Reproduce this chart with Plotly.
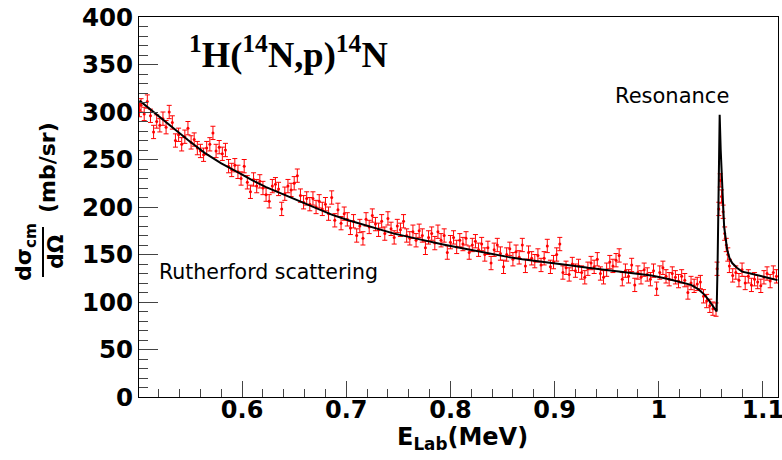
import plotly.graph_objects as go

# ---------------- data ----------------
# measured points: lab energy (MeV)
E_LAB = [
    0.5015, 0.503, 0.506, 0.509, 0.512, 0.515, 0.518, 0.521, 0.524, 0.527, 0.530,
    0.533, 0.536, 0.539, 0.542, 0.545, 0.548, 0.551, 0.554, 0.557, 0.560,
    0.563, 0.566, 0.569, 0.572, 0.575, 0.578, 0.581, 0.584, 0.587, 0.590,
    0.593, 0.596, 0.599, 0.602, 0.605, 0.608, 0.611, 0.614, 0.617, 0.620,
    0.623, 0.626, 0.629, 0.632, 0.635, 0.638, 0.641, 0.644, 0.647, 0.650,
    0.653, 0.656, 0.659, 0.662, 0.665, 0.668, 0.671, 0.674, 0.677, 0.680,
    0.683, 0.686, 0.689, 0.692, 0.695, 0.698, 0.701, 0.704, 0.707, 0.710,
    0.713, 0.716, 0.719, 0.722, 0.725, 0.728, 0.731, 0.734, 0.737, 0.740,
    0.743, 0.746, 0.749,
    0.752, 0.755, 0.758, 0.761, 0.764, 0.767, 0.770, 0.773, 0.776, 0.779,
    0.782, 0.785, 0.788, 0.791, 0.794, 0.797, 0.800, 0.803, 0.806, 0.809,
    0.812, 0.815, 0.818, 0.821, 0.824, 0.827, 0.830, 0.833, 0.836, 0.839,
    0.842, 0.845, 0.848, 0.851, 0.854, 0.857, 0.860, 0.863, 0.866, 0.869,
    0.872, 0.875, 0.878, 0.881, 0.884, 0.887, 0.890, 0.893, 0.896, 0.899,
    0.902, 0.905, 0.908, 0.911, 0.914, 0.917, 0.920, 0.923, 0.926, 0.929,
    0.932, 0.935, 0.938, 0.941, 0.944, 0.947, 0.950, 0.953, 0.956, 0.959,
    0.962, 0.965, 0.968, 0.971, 0.974, 0.977, 0.980, 0.983, 0.986, 0.989,
    0.992,
    0.995, 0.998, 1.001, 1.004, 1.007, 1.010, 1.013, 1.016, 1.019, 1.022,
    1.025, 1.028, 1.031, 1.034, 1.037, 1.040, 1.043, 1.046, 1.049, 1.052,
    1.055,
    1.0560, 1.0577, 1.0590, 1.0603, 1.0618, 1.0633, 1.0648, 1.0663, 1.0678,
    1.071, 1.074, 1.077, 1.080, 1.083, 1.086, 1.089, 1.092, 1.095, 1.098,
    1.101, 1.104, 1.107, 1.110, 1.113,
]
# measured cross section (mb/sr)
XSEC = [
    302, 307, 298, 311, 296, 279, 290, 286, 293, 284, 300,
    289, 270, 276, 266, 274, 283, 268, 271, 262, 259,
    255, 262, 266, 278, 259, 263, 256, 260, 243, 239,
    244, 237, 230, 243, 226, 216, 229, 222, 227, 220,
    213, 206, 222, 224, 219, 198, 214, 222, 218, 225,
    233, 212, 205, 209, 203, 209, 200, 206, 198, 203,
    193, 210, 186, 197, 183, 193, 187, 178, 185, 170,
    180, 167, 187, 179, 191, 182, 176, 185, 172, 188,
    177, 168, 180,
    176, 185, 170, 167, 174, 165, 175, 170, 157, 168,
    172, 162, 174, 165, 170, 152, 163, 168, 158, 165,
    161, 167, 152, 160, 164, 155, 161, 150, 157, 141,
    155, 160, 151, 137, 150, 156, 145, 153, 147, 160,
    138, 152, 146, 143, 149, 139, 146, 159, 137, 142,
    150, 161, 131, 136, 129, 140, 133, 138, 131, 126,
    135, 141, 137, 145, 130, 126, 134, 142, 138, 144,
    149, 124, 133, 127, 139, 118, 131, 126, 134, 129,
    124,
    133, 114, 131, 136, 127, 124, 130, 126, 122, 127,
    123, 110, 120, 117, 119, 121, 106, 101, 96, 93,
    92,
    135, 198, 228, 211, 195, 172, 160, 150, 138,
    128, 131, 123, 134, 120, 127, 118, 124, 121, 117,
    126, 130, 122, 131, 127,
]
XSEC_ERR = 7  # mb/sr, error bar half-length

# fitted curve (Rutherford + resonance)
FIT_E = [
    0.5015, 0.516, 0.532, 0.548, 0.564, 0.580, 0.597, 0.610, 0.623, 0.638,
    0.654, 0.670, 0.686, 0.702, 0.718, 0.732, 0.746, 0.762, 0.777, 0.793,
    0.809, 0.825, 0.841, 0.855, 0.869, 0.885, 0.900, 0.916, 0.932, 0.948,
    0.964, 0.978, 0.993, 1.008, 1.022, 1.031, 1.0386, 1.044, 1.048, 1.051,
    1.053, 1.0545, 1.0556, 1.0565, 1.0575, 1.0585, 1.0595, 1.0605, 1.0616,
    1.0628, 1.0642, 1.0657, 1.0680, 1.0705, 1.075, 1.080, 1.088, 1.096,
    1.105, 1.114,
]
FIT_XS = [
    312, 299, 285, 270.5, 257, 246, 236, 228, 221, 214,
    207, 199.5, 192, 186, 181, 176.5, 172, 168, 164, 160.5,
    157, 153.5, 150, 147.5, 145, 143, 141, 138.5, 136, 134,
    132, 130, 128, 124.5, 121, 118, 113, 107.5, 102, 97.5,
    94, 91.5, 90, 140, 230, 297, 260, 225, 207,
    179, 165, 155, 146, 141, 136, 132, 130, 128,
    125.5, 123,
]

X_TICKS = [0.6, 0.7, 0.8, 0.9, 1.0, 1.1]
X_TICK_TEXT = ["0.6", "0.7", "0.8", "0.9", "1", "1.1"]
Y_TICKS = [0, 50, 100, 150, 200, 250, 300, 350, 400]

# ---------------- figure ----------------
fig = go.Figure()

fig.add_trace(go.Scatter(
    x=E_LAB, y=XSEC, mode="markers",
    marker=dict(color="#ff0000", size=3),
    error_y=dict(type="constant", value=XSEC_ERR, color="#ff0000",
                 thickness=1, width=2.5),
    showlegend=False, hoverinfo="x+y",
))
fig.add_trace(go.Scatter(
    x=FIT_E, y=FIT_XS, mode="lines",
    line=dict(color="black", width=2),
    showlegend=False,
))

TICKFONT = dict(family="DejaVu Sans", size=24, color="black", weight="bold")

fig.update_xaxes(
    range=[0.501, 1.1145], showgrid=False, zeroline=False, automargin=False,
    showline=True, linecolor="black", linewidth=1, mirror=True,
    tickmode="array", tickvals=X_TICKS, ticktext=X_TICK_TEXT,
    ticks="inside", ticklen=16, tickcolor="#444", tickwidth=1,
    ticklabeloverflow="allow", ticklabelstandoff=-9,
    minor=dict(dtick=0.02, tick0=0.5, ticks="inside", ticklen=8,
               tickcolor="#444", tickwidth=1, showgrid=False),
    tickfont=TICKFONT,
)
fig.update_yaxes(
    range=[0, 400], showgrid=False, zeroline=False, automargin=False,
    showline=True, linecolor="black", linewidth=1, mirror=True,
    tickmode="array", tickvals=Y_TICKS,
    ticks="inside", ticklen=19, tickcolor="#444", tickwidth=1,
    ticklabeloverflow="allow",
    minor=dict(dtick=10, tick0=0, ticks="inside", ticklen=9,
               tickcolor="#444", tickwidth=1, showgrid=False),
    tickfont=dict(TICKFONT, size=24.5),
)

# plot-area edges in page pixels (page body margin removed below)
PL, PR, PT, PB = 139, 778, 17, 397
W, H = 782, 460
PW, PH = PR - PL, PB - PT


def px(xp):
    return (xp - PL) / PW


def py(yp):
    return (PB - yp) / PH


ann = []
ann.append(dict(text="<b><sup>1</sup>H(<sup>14</sup>N,p)<sup>14</sup>N</b>",
                x=px(288), y=py(52), xanchor="center", yanchor="middle",
                font=dict(family="Liberation Serif", size=36.5, color="black")))
ann.append(dict(text="Rutherford scattering", x=px(157), y=py(272),
                xanchor="left", yanchor="middle",
                font=dict(family="DejaVu Sans", size=20.5, color="black")))
ann.append(dict(text="Resonance", x=px(672), y=py(96),
                xanchor="center", yanchor="middle",
                font=dict(family="DejaVu Sans", size=21, color="black")))
ann.append(dict(text="<b>E<sub>Lab</sub>(MeV)</b>", x=px(462), y=py(438),
                xanchor="center", yanchor="middle",
                font=dict(family="DejaVu Sans", size=24, color="black")))
ann.append(dict(text="<b>dσ<sub>cm</sub></b>", x=px(25), y=py(252),
                xanchor="center", yanchor="middle", textangle=-90,
                font=dict(family="DejaVu Sans", size=22, color="black")))
ann.append(dict(text="<b>dΩ</b>", x=px(55), y=py(252),
                xanchor="center", yanchor="middle", textangle=-90,
                font=dict(family="DejaVu Sans", size=22, color="black")))
ann.append(dict(text="<b>(mb/sr)</b>", x=px(47), y=py(168),
                xanchor="center", yanchor="middle", textangle=-90,
                font=dict(family="DejaVu Sans", size=22, color="black")))
for a in ann:
    a.update(xref="paper", yref="paper", showarrow=False)

fig.update_layout(
    width=W, height=H,
    margin=dict(l=PL, r=W - PR, t=PT, b=H - PB),
    plot_bgcolor="white", paper_bgcolor="white",
    annotations=ann,
    shapes=[dict(type="line", xref="paper", yref="paper",
                 x0=px(43), x1=px(43), y0=py(227), y1=py(277),
                 line=dict(color="black", width=2))],
)

fig.write_html(
    "out.html",
    config={"displayModeBar": False},
    post_script="document.body.style.margin='0px';"
                "document.body.style.overflow='hidden';",
)
